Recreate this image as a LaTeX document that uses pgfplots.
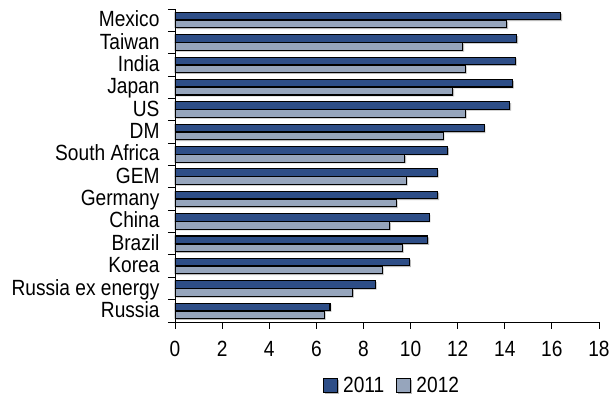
\documentclass[border=0pt]{standalone}
\usepackage{fontspec}
\setmainfont{Liberation Sans}[FakeStretch=0.87]
\usepackage{pgfplots}
\pgfplotsset{compat=1.18}
\definecolor{cA}{RGB}{46,78,135}
\definecolor{cB}{RGB}{150,165,188}
\begin{document}
\begin{tikzpicture}
\path[use as bounding box] (-175pt,-76pt) rectangle (435pt,322pt);
\begin{axis}[
  at={(0pt,0pt)}, anchor=south west,
  scale only axis, width=424pt, height=313pt,
  xbar, bar width=7.5pt,
  xmin=0, xmax=18, xtick={0,2,...,18},
  ymin=-0.5, ymax=13.5,
  ytick={0,...,13},
  yticklabels={Russia,Russia ex energy,Korea,Brazil,China,Germany,GEM,South Africa,DM,US,Japan,India,Taiwan,Mexico},
  minor ytick={-0.5,0.5,...,13.5},
  axis x line*=bottom, axis y line*=left,
  axis line style={black, line width=0.9pt},
  tick align=outside,
  major tick length=7pt, minor tick length=7pt,
  major y tick style={draw=none},
  minor y tick style={black, line width=0.9pt},
  major x tick style={black, line width=0.9pt},
  /pgf/number format/assume math mode=true,
  ticklabel style={font=\fontsize{22}{26}\selectfont},
  yticklabel style={xshift=-5pt, yshift=-4pt, text height=0.72em, text depth=0.2em, inner ysep=0pt},
  xticklabel style={yshift=-9pt},
  legend style={at={(0.512,-0.204)}, anchor=center, draw=none, fill=none,
    font=\fontsize{22}{26}\selectfont, legend columns=2,
    /tikz/every odd column/.append style={column sep=3pt},
    /tikz/every even column/.append style={column sep=10pt}},
  legend image code/.code={\draw[#1] (0pt,-7pt) rectangle (14pt,7pt);},
]
\addplot[fill=cA, draw=black, line width=1.1pt, bar shift=4pt,
  preaction={fill=gray!55, draw=none, transform canvas={shift={(1.3pt,-1.3pt)}}}] coordinates {
(6.58,0) (8.50,1) (9.96,2) (10.73,3) (10.79,4) (11.16,5) (11.14,6) (11.57,7) (13.12,8) (14.21,9) (14.33,10) (14.45,11) (14.51,12) (16.38,13)};
\addplot[fill=cB, draw=black, line width=1.1pt, bar shift=-4pt,
  preaction={fill=gray!55, draw=none, transform canvas={shift={(1.3pt,-1.3pt)}}}] coordinates {
(6.34,0) (7.54,1) (8.80,2) (9.65,3) (9.11,4) (9.40,5) (9.82,6) (9.76,7) (11.38,8) (12.33,9) (11.79,10) (12.33,11) (12.22,12) (14.09,13)};
\legend{2011,2012}
\end{axis}
\end{tikzpicture}
\end{document}
